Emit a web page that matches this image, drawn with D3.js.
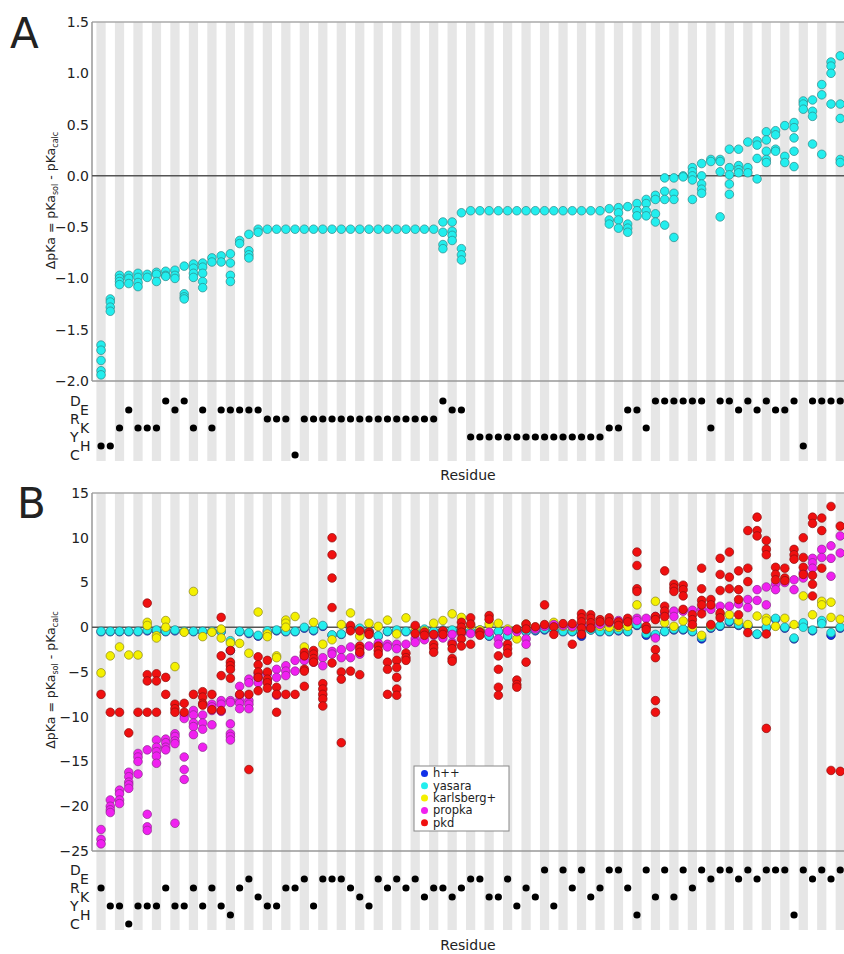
<!DOCTYPE html>
<html lang="en">
<head>
<meta charset="UTF-8">
<title>pKa shifts per residue</title>
<script src="https://cdn.jsdelivr.net/npm/d3@7"></script>
<style>
  body { margin: 0; background: #fff; }
  text { font-family: "DejaVu Sans", sans-serif; fill: #222; }
</style>
</head>
<body>
<div id="chart"></div>
<script>

// residue classes shown in the strips under each panel
var rowLabels = ["D","E","R","K","Y","H","C"];

// panel A: residue class and computed shifts (one list per residue)
var typesA = ["H","H","K","E","K","K","K","D","E","D","K","E","K","E","E","E","E","E","R","R","R","C",
  "R","R","R","R","R","R","R","R","R","R","R","R","R","R","R",
  "D","E","E",
  "Y","Y","Y","Y","Y","Y","Y","Y","Y","Y","Y","Y","Y","Y","Y",
  "K","K","E","E","K","D","D","D","D","D","D","K","D","D","E","D","E","D","E","E","D","H","D","D","D","D"];

var dpkaA = [
  [-1.65,-1.70,-1.80,-1.90,-1.94],[-1.20,-1.23,-1.28,-1.32],[-0.97,-1.00,-1.03,-1.06],[-0.97,-1.00,-1.05],
  [-0.95,-0.99,-1.04,-1.08],[-0.96,-0.99],[-0.94,-0.96,-1.03],[-0.93,-0.97,-0.98],[-0.92,-0.97,-1.00],
  [-0.88,-1.15,-1.18,-1.20],[-0.86,-0.90,-0.95,-0.99],[-0.85,-0.89,-0.95,-1.03,-1.09],[-0.80,-0.84],
  [-0.78,-0.84],[-0.76,-0.85,-0.97,-1.03],[-0.63,-0.66],[-0.57,-0.73,-0.77,-0.80],[-0.52,-0.55],
  [-0.52],[-0.52],[-0.52],[-0.52],[-0.52],[-0.52],[-0.52],[-0.52],[-0.52],[-0.52],[-0.52],[-0.52],
  [-0.52],[-0.52],[-0.52],[-0.52],[-0.52],[-0.52],[-0.52],
  [-0.45,-0.55,-0.67,-0.71],[-0.45,-0.54,-0.58,-0.63],[-0.36,-0.71,-0.77,-0.82],
  [-0.34],[-0.34],[-0.34],[-0.34],[-0.34],[-0.34],[-0.34],[-0.34],[-0.34],[-0.34],[-0.34],[-0.34],
  [-0.34],[-0.34],[-0.34],
  [-0.32,-0.43,-0.47],[-0.31,-0.36,-0.43,-0.51],[-0.30,-0.47,-0.51,-0.55],[-0.27,-0.34,-0.39],
  [-0.23,-0.27,-0.34,-0.39],[-0.19,-0.23,-0.37,-0.45],[-0.02,-0.15,-0.23,-0.48],[-0.02,-0.17,-0.23,-0.60],
  [0.00,-0.01],[0.08,0.04,0.00,-0.04,-0.23],[0.12,0.00,-0.08,-0.13,-0.17],[0.16,0.14],
  [0.16,0.14,0.04,-0.40],[0.26,0.08,0.01,-0.08,-0.18],[0.26,0.10,0.06,0.03],[0.33,0.08,0.03],
  [0.34,0.30,0.17,-0.03],[0.43,0.35,0.24,0.16,0.13],[0.44,0.40,0.26,0.24],[0.49,0.19,0.13],
  [0.52,0.47,0.37,0.24,0.09],[0.73,0.70,0.65],[0.74,0.63,0.58,0.31],[0.89,0.79,0.21],
  [1.11,1.07,1.00,0.70],[1.17,0.70,0.56,0.16,0.13]
];

// panel B: residue class and shifts from each program
var typesB = ["R","Y","Y","C","Y","Y","Y","R","Y","Y","R","Y","R","Y","H","R","E","K","Y","Y","R","R",
  "E","Y","E","E","E","R","K","Y","E","R","E","R","E","K","R","R","K","R","E","E","K","K","E","Y","R","K","D","Y","D","R",
  "D","K","R","D","D","R","H","D","K","D","K","D","R","D","E","D","D","E","D","E","D","D","D","H","D","E","D","E","D"];

var hpp = [
  [-0.5],[-0.5],[-0.5],[-0.5],[-0.5],[-0.4],[-0.4],[-0.5],[-0.4],[-0.5],[-0.5],[-0.5],[-0.5],[-0.5],[-2.6],[-0.5],
  [-0.7],[-1.0],[-0.5],[-0.4],[-0.5],[-0.5],[-0.1],[-0.4],[0.1],[-0.9],[-0.8],[-0.1],[-0.2],[-0.5],[-1.0],[-0.5],
  [-0.4],[-0.5],[-0.5],[-0.3],[-0.5],[-0.4],[-0.4],[-0.4],[-0.5],[-0.4],[-1.0],[-0.5],[-1.0],[-0.4],[-0.5],[-0.4],
  [-0.3],[-0.3],[-0.5],[-0.5],[-1.0],[-0.3],[-0.5],[-0.5],[-0.4],[-0.5],[0.2],[-0.9],[-0.9],[-0.5],[-0.3],[-0.3],
  [-0.5],[-1.3],[-0.1],[0.1],[0.6],[0.2],[0.1],[-0.8],[-0.1],[0.9],[-0.1],[-1.3],[0.4],[-0.4],[0.6],[-0.9],[-0.1]
];

var yasara = [
  [-0.45],[-0.45],[-0.45],[-0.45],[-0.45],[-0.3],[-0.3],[-0.45],[-0.3],[-0.45],[-0.45],[-0.45],[-0.45],[-0.45],[-1.5],[-0.45],
  [-0.6],[-0.9],[-0.4],[-0.3],[-0.45],[-0.45],[0.0],[-0.3],[0.2],[-0.85],[-0.75],[0.0],[-0.1],[-0.45],[-0.95],[-0.45],
  [-0.3],[-0.45],[-0.45],[-0.2],[-0.45],[-0.3],[-0.3],[-0.3],[-0.45],[-0.3],[-0.95],[-0.45],[-0.95],[-0.3],[-0.45],[-0.3],
  [-0.2],[-0.2],[-0.45],[-0.45],[-0.6],[-0.3],[-0.45],[-0.45],[-0.3],[-0.45],[0.3],[-0.7],[-0.8],[-0.45],[-0.2],[-0.2],
  [-0.45],[-1.1],[0.0],[0.2],[0.7],[0.3],[0.2],[-0.75],[0.0],[1.0],[0.0],[-1.2],[0.5,0.0],[-0.3],[0.75,0.4],[-0.6],[0.0]
];

var karlsberg = [
  [-5.1],[-3.2],[-2.2],[-3.1],[-3.1],[0.55,0.2],[-0.95,-1.2],[0.75,0.0],[-4.4],[-0.55],[4.0],[-1.05],[-0.55],[-0.2,-1.2],
  [-1.75],[-1.8],[-2.9],[1.7],[-0.75,-1.05],[-3.2,-3.4],[0.8,0.45,0.0],[1.2],[-2.2],[0.55],[-1.9],[-1.4],[0.3],[1.6],
  [-1.0],[0.45],[0.1],[0.8],[-0.75],[1.05],[0.0],[-0.4],[0.45],[0.75],[1.5],[1.1],[0.2],[-0.3],[0.35],[0.45],[-0.2],
  [-1.3],[0.35],[0.0],[0.2],[0.55],[0.1],[0.0],[0.2],[0.0],[0.1],[0.0],[0.0],[0.1],[2.5],[0.0],[2.9],[0.5],[0.1],[0.7],
  [0.0],[-0.9],[0.2],[1.4],[1.4],[0.7],[0.3],[1.25],[1.0,0.7],[0.1],[1.0],[0.3],[3.5],[1.4],[2.9,2.5],[2.8,1.1],[0.9]
];

var propka = [
  [-22.6,-23.7,-24.2],[-19.3,-20.0,-20.4,-20.7],[-18.2,-18.6,-19.3,-19.7],[-16.2,-16.7,-17.3,-17.6,-18.0],
  [-14.1,-14.5,-15.0,-16.4],[-13.7,-20.9,-22.3,-22.7],[-12.6,-13.4,-13.9,-14.4,-15.2],[-12.5,-12.9,-13.4,-13.7],
  [-11.9,-12.2,-12.7,-13.0,-21.9],[-9.8,-10.2,-14.5,-15.9,-17.0],[-9.3,-9.8,-10.7,-11.1,-12.0],[-9.8,-10.7,-11.4,-13.4],
  [-8.6,-8.9,-9.3,-10.9],[-8.2,-8.6,-9.4],[-8.2,-8.4,-10.8,-11.9,-12.2,-12.6],[-6.6,-7.6,-8.2,-8.5,-9.1],
  [-5.8,-6.2,-8.2,-8.6,-9.1],[-5.2,-5.6,-6.2],[-5.2,-6.0],[-4.7,-5.6,-7.6],[-4.3,-4.9,-5.4],[-3.7,-4.9],
  [-3.2,-3.7],[-3.9],[-3.4,-4.3],[-2.7,-3.0],[-2.5,-3.4],[-2.2,-3.4],[-3.0],[-2.1],[-1.8],[-1.9,-2.2],[-1.9,-2.4],
  [-1.9],[-1.3,-1.7],[-1.4],[-0.9],[-0.9,-1.2],[-0.8,-1.7],[-0.7],[-0.7],[-0.55],[-0.55],[-1.3,-1.9],[-0.4],[-0.5],
  [-1.3,-1.9],[-0.2],[0.1],[0.3],[0.2],[0.1],[0.2],[0.1],[0.3],[0.5],[0.75],[0.7],[1.0,0.75],[1.0],[1.2,-1.2],[1.5],
  [1.8,1.2],[1.8],[1.9],[2.0],[2.0],[2.35],[2.35],[2.6],[3.1,2.2],[4.2,3.0],[4.5,2.5],[4.8,4.2],[5.0],[5.3,4.2],
  [6.1,5.5],[7.7,7.2,6.6],[8.7,7.8],[9.1,7.7,5.7],[10.2,8.3]
];

var pkd = [
  [-7.5],[-9.5],[-9.5],[-11.8],[-9.5],[2.7,-5.3,-6.0,-9.5],[-5.2,-6.0,-9.5],[-5.6,-7.5],[-8.6,-9.1,-9.5],[-8.5,-9.5],
  [-7.5],[-7.2,-7.8,-8.5,-8.7],[-7.5,-9.2],[1.1,-3.2,-5.4,-9.3],[-2.6,-3.9,-4.3,-4.7,-5.7],[-7.5],[-7.5,-15.9],
  [-3.3,-4.2,-5.0,-5.6,-7.1],[-3.7,-5.0,-5.8,-6.2,-6.8],[-6.7,-7.5,-9.5],[-7.5],[-7.5],
  [-2.8,-3.2,-4.7,-4.9,-6.6],[-2.6,-3.0,-3.5,-3.9],[-6.3,-6.9,-7.5,-8.0,-8.8],[10.0,8.1,5.5,2.2,-4.0],[-5.0,-5.8,-12.9],
  [0.2,-0.4,-4.9],[-0.4,-2.1,-2.4,-2.8,-5.3],[-0.55,-0.8],[-2.1,-2.6,-3.0],[-3.9,-4.7,-7.5],[-3.7,-4.5,-5.6,-6.9,-7.6],
  [-2.9,-3.4,-3.7],[0.2,-0.7],[-0.55,-0.9],[-0.8,-1.9,-2.3,-2.8],[-0.4,-0.8],[-1.9,-2.4,-3.5,-3.8],[0.55,0.0,-0.55,-1.3,-2.1],
  [1.05,0.35,-1.9],[-0.55,-0.9],[1.3,0.9],[-3.2,-4.7,-6.7,-7.6],[-1.9,-2.4,-2.9],[-0.2,-5.9,-6.4,-6.7],[0.35,-0.2,-3.9],
  [0.05],[2.5,0.3],[0.05,-0.8],[0.4],[0.4,-1.9],[1.5,1.05,0.6,-0.1,-0.8],[1.4,1.0,0.5,-0.1],[0.85,0.6],[1.05,0.6],
  [0.6,0.2],[1.0,0.6],[8.4,6.9,4.3,4.0],[0.1,-0.25],[1.2,0.85,-2.5,-3.4,-8.2,-9.5],[6.3,2.35,1.8,1.2],[4.8,4.4,4.0],
  [4.7,4.2,3.5,2.0],[1.4,0.85,0.3],[6.6,4.3,3.0,2.5,1.5],[3.1,2.5,0.3],[7.7,5.9,4.1,1.6,1.05],[8.4,5.6,4.3],
  [6.3,4.2,3.1,1.4],[10.8,6.6,5.1,-0.6],[12.3,10.8,10.2],[9.7,8.7,8.1,-0.75,-11.3],[6.7,5.9,5.3],[6.6,5.5,5.2],
  [8.7,8.1,7.6],[10.0,7.8,6.7,5.9],[12.3,11.6,5.8,4.8,3.5],[12.2,10.8,6.6],[13.5,-16.0],[11.3,-16.1]
];

var ticksA = [-2.0,-1.5,-1.0,-0.5,0.0,0.5,1.0,1.5];
var ticksB = [-25,-20,-15,-10,-5,0,5,10,15];
var seriesNames = ["h++","yasara","karlsberg+","propka","pkd"];
var seriesColors = ["#1030e8","#22eeee","#f4f000","#f020f0","#f01010"];
var seriesEdges = ["#102080","#2f8585","#8a8420","#8a2a8a","#8a1010"];

var width = 844, height = 954;
var svg = d3.select("#chart").append("svg")
    .attr("width", width)
    .attr("height", height);

var nRes = typesA.length;
var x = d3.scaleLinear().domain([-1, nRes]).range([91.8, 91.8 + (nRes + 1) * 9.24]);

function flatten(arr) {
    var out = [];
    arr.forEach(function(vals, i) { vals.forEach(function(v) { out.push({i: i, v: v}); }); });
    return out;
}

function drawPanel(p) {
    var g = svg.append("g");
    var y = d3.scaleLinear().domain(p.domain).range([p.bottom, p.top]);
    var rowY = d3.scalePoint().domain(rowLabels).range([p.rowTop, p.rowTop + 54]);

    // alternating stripes, one column per residue
    g.append("g").selectAll("rect")
        .data(d3.range(0, nRes, 2))
        .enter().append("rect")
        .attr("x", function(i) { return x(i - 0.5); })
        .attr("width", function(i) { return x(i + 0.5) - x(i - 0.5); })
        .attr("y", p.top)
        .attr("height", p.stripBottom - p.top)
        .attr("fill", "#e6e6e6");

    // frame
    g.append("line").attr("x1", 92).attr("x2", width).attr("y1", p.top).attr("y2", p.top)
        .attr("stroke", "#aaa").attr("stroke-width", 1.5);
    g.append("line").attr("x1", 92).attr("x2", width).attr("y1", p.bottom).attr("y2", p.bottom)
        .attr("stroke", "#999").attr("stroke-width", 1.5);
    g.append("line").attr("x1", 92).attr("x2", 92).attr("y1", p.top).attr("y2", p.bottom)
        .attr("stroke", "#999").attr("stroke-width", 1.5);
    g.append("line").attr("x1", 92).attr("x2", width).attr("y1", y(0)).attr("y2", y(0))
        .attr("stroke", "#555").attr("stroke-width", 1.5);

    // y axis
    var axis = g.append("g")
        .attr("transform", "translate(92,0)")
        .call(d3.axisLeft(y).tickValues(p.ticks).tickSize(0).tickPadding(3).tickFormat(p.format));
    axis.select(".domain").remove();
    axis.selectAll("text").style("font-size", "14px").style("font-family", "DejaVu Sans").attr("fill", "#222");

    // y label with subscripts
    var lab = g.append("text")
        .attr("transform", "translate(55," + ((p.top + p.bottom) / 2 + p.labelShift) + ") rotate(-90)")
        .attr("text-anchor", "middle")
        .style("font-size", "12.5px");
    lab.append("tspan").text("\u0394pKa = pKa");
    lab.append("tspan").attr("dy", 3).style("font-size", "8px").text("sol");
    lab.append("tspan").attr("dy", -3).text(" - pKa");
    lab.append("tspan").attr("dy", 3).style("font-size", "8px").text("calc");

    // panel letter
    g.append("text").attr("x", p.letterX).attr("y", p.letterY)
        .style("font-size", "42px").attr("fill", "#000").text(p.letter);

    // series points
    p.series.forEach(function(s) {
        g.append("g").selectAll("circle")
            .data(flatten(s.values))
            .enter().append("circle")
            .attr("cx", function(d) { return x(d.i); })
            .attr("cy", function(d) { return y(d.v); })
            .attr("r", 4.3)
            .attr("fill", s.color)
            .attr("stroke", s.edge)
            .attr("stroke-width", 0.7);
    });

    // residue class strip
    g.append("g").selectAll("text")
        .data(rowLabels)
        .enter().append("text")
        .attr("x", function(d, k) { return k % 2 === 0 ? 70 : 80; })
        .attr("y", function(d) { return rowY(d) + 5; })
        .style("font-size", "14px")
        .text(function(d) { return d; });

    g.append("g").selectAll("circle")
        .data(p.types)
        .enter().append("circle")
        .attr("cx", function(d, i) { return x(i); })
        .attr("cy", function(d) { return rowY(d); })
        .attr("r", 3.6)
        .attr("fill", "#000");

    g.append("text")
        .attr("x", 468).attr("y", p.residueY)
        .attr("text-anchor", "middle")
        .style("font-size", "14px")
        .text("Residue");
    return g;
}

drawPanel({
    top: 22, bottom: 381, domain: [-2, 1.5], ticks: ticksA, format: d3.format(".1f"),
    rowTop: 401, stripBottom: 461, residueY: 480, labelShift: -1,
    letter: "A", letterX: 10, letterY: 48, types: typesA,
    series: [{values: dpkaA, color: "#22eeee", edge: "#2f8585"}]
});

var gB = drawPanel({
    top: 493, bottom: 851, domain: [-25, 15], ticks: ticksB, format: d3.format("d"),
    rowTop: 870, stripBottom: 930, residueY: 950, labelShift: 8,
    letter: "B", letterX: 17, letterY: 518, types: typesB,
    series: [hpp, yasara, karlsberg, propka, pkd].map(function(v, k) {
        return {values: v, color: seriesColors[k], edge: seriesEdges[k]};
    })
});

// legend
var leg = gB.append("g").attr("transform", "translate(414,766)");
leg.append("rect").attr("width", 95).attr("height", 65)
    .attr("fill", "#fff").attr("stroke", "#888").attr("stroke-width", 1);
var items = leg.selectAll("g.item").data(seriesNames).enter().append("g")
    .attr("transform", function(d, k) { return "translate(0," + (7.5 + k * 12.3) + ")"; });
items.append("circle").attr("cx", 10.5).attr("cy", 0).attr("r", 3.5)
    .attr("fill", function(d, k) { return seriesColors[k]; });
items.append("text").attr("x", 19).attr("y", 3.8)
    .style("font-size", "11.5px")
    .text(function(d) { return d; });

</script>
</body>
</html>
